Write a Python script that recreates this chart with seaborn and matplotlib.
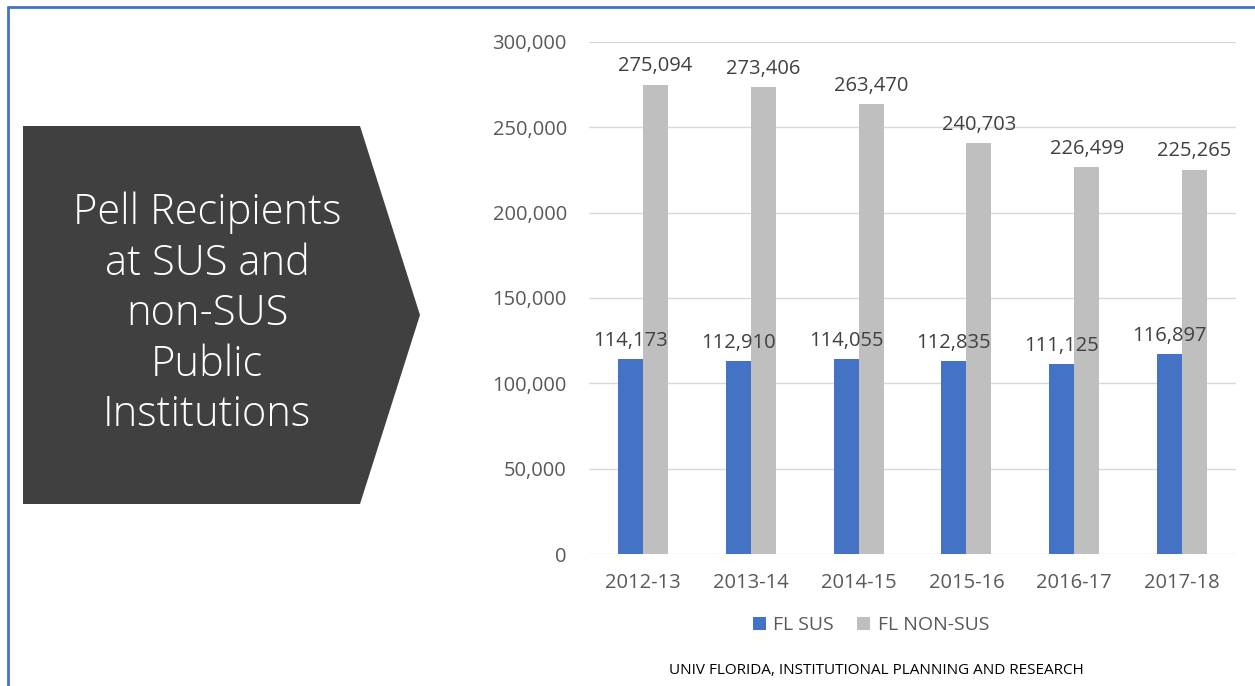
import matplotlib
matplotlib.use("Agg")
import matplotlib.pyplot as plt
from matplotlib.patches import Polygon, Rectangle
from matplotlib.lines import Line2D
import seaborn as sns
import pandas as pd

years = ["2012-13", "2013-14", "2014-15", "2015-16", "2016-17", "2017-18"]
fl_sus = [114173, 112910, 114055, 112835, 111125, 116897]
fl_non_sus = [275094, 273406, 263470, 240703, 226499, 225265]
series_names = ["FL SUS", "FL NON-SUS"]
colors = ["#4472C4", "#BFBFBF"]
yticks = [0, 50000, 100000, 150000, 200000, 250000, 300000]
title_text = "Pell Recipients\nat SUS and\nnon-SUS\nPublic\nInstitutions"
footer = "UNIV FLORIDA, INSTITUTIONAL PLANNING AND RESEARCH"

df = pd.DataFrame({
    "year": years * 2,
    "value": fl_sus + fl_non_sus,
    "series": [series_names[0]] * len(years) + [series_names[1]] * len(years),
})

sns.set_theme(style="white")
plt.rcParams["font.family"] = ["Open Sans", "DejaVu Sans"]

W, H = 1255, 686
fig = plt.figure(figsize=(W / 100, H / 100), dpi=100)

# border lines (blue) at top and left
fig.add_artist(Line2D([8 / W, 8 / W], [0, 1 - 7 / H], transform=fig.transFigure,
                      color="#4472C4", lw=2))
fig.add_artist(Line2D([8 / W, 1], [1 - 7 / H, 1 - 7 / H], transform=fig.transFigure,
                      color="#4472C4", lw=2))

# pentagon arrow shape
pts = [(23, 126), (360, 126), (420, 315), (360, 504), (23, 504)]
fig.add_artist(Polygon([(x / W, 1 - y / H) for x, y in pts], closed=True,
                       transform=fig.transFigure, facecolor="#404040", edgecolor="none"))
fig.text(207 / W, 1 - 314 / H, title_text, ha="center", va="center", color="white",
         fontsize=30, linespacing=1.25, fontweight="light", family=["Open Sans", "DejaVu Sans"])

ax = fig.add_axes([589 / W, 1 - 554 / H, (1236 - 589) / W, (554 - 42) / H])
sns.barplot(data=df, x="year", y="value", hue="series", palette=colors,
            width=0.464, ax=ax, saturation=1, legend=False, errorbar=None,
            linewidth=0, edgecolor="none")

ax.set_ylim(0, 300000)
ax.set_yticks(yticks)
ax.set_yticklabels([f"{v:,}" for v in yticks])
ax.set_xlabel("")
ax.set_ylabel("")
ax.grid(axis="y", color="#D9D9D9", lw=1)
ax.set_axisbelow(True)
for s in ax.spines.values():
    s.set_visible(False)
ax.tick_params(axis="y", length=0, pad=16, labelsize=14.5, labelcolor="#595959")
ax.tick_params(axis="x", length=0, pad=14, labelsize=14.5, labelcolor="#595959")
ax.set_xlim(-0.5, len(years) - 0.5)

for cont in ax.containers:
    for bar in cont:
        h = bar.get_height()
        ax.annotate(f"{int(h):,}", (bar.get_x() + bar.get_width() / 2, h),
                    xytext=(0, 6), textcoords="offset points", ha="center", va="bottom",
                    fontsize=14.5, color="#404040")

handles = [Rectangle((0, 0), 1, 1, facecolor=c, edgecolor="none") for c in colors]
fig.legend(handles, series_names, loc="center", bbox_to_anchor=(871 / W, 1 - 625 / H),
           ncol=2, frameon=False, fontsize=14, handlelength=0.65, handleheight=0.65,
           handletextpad=0.4, columnspacing=1.2, labelcolor="#595959")

fig.text(876 / W, 1 - 670 / H, footer, ha="center", va="center", fontsize=11, color="#000000")

fig.savefig("out.png", dpi=100)
